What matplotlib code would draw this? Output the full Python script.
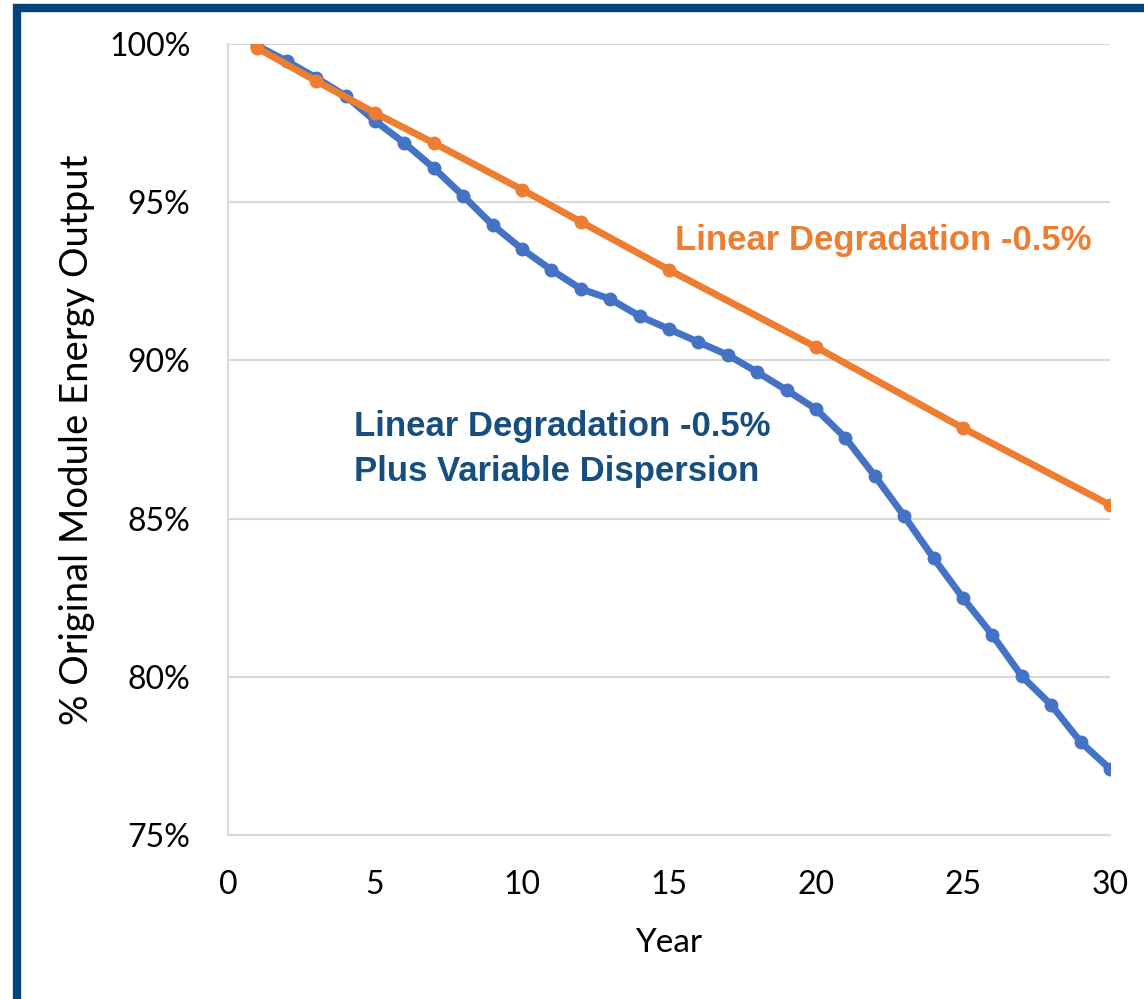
import matplotlib.pyplot as plt
from matplotlib.patches import Rectangle
from matplotlib.ticker import FuncFormatter

# orange series: straight -0.5%/yr degradation (sampled years)
lin_years = [1, 3, 5, 7, 10, 12, 15, 20, 25, 30]
lin_output = [99.87, 98.83, 97.82, 96.87, 95.40, 94.38, 92.86, 90.42, 87.86, 85.43]

# blue series: linear degradation plus variable dispersion
disp_years = list(range(1, 31))
disp_output = [99.94, 99.46, 98.93, 98.36, 97.57, 96.87, 96.08, 95.20, 94.28, 93.52,
               92.86, 92.26, 91.94, 91.40, 90.99, 90.58, 90.17, 89.63, 89.06, 88.46,
               87.55, 86.35, 85.08, 83.75, 82.49, 81.32, 80.02, 79.11, 77.94, 77.09]

y_ticks = [75, 80, 85, 90, 95, 100]
x_ticks = [0, 5, 10, 15, 20, 25, 30]

blue = '#4472C4'
orange = '#ED7D31'
navy = '#024479'

plt.rcParams['font.family'] = ['Lato', 'DejaVu Sans']

fig = plt.figure(figsize=(11.44, 9.99), dpi=100)

# dark blue frame (left and top edges only are visible)
W, H = 1144, 999
fig.patches.append(Rectangle((17 / W, -0.1), 1.2, (H - 8) / H + 0.1,
                             transform=fig.transFigure, fill=False,
                             edgecolor=navy, linewidth=6, zorder=0))

ax = fig.add_axes([228 / W, 1 - 835 / H, (1110 - 228) / W, (835 - 44) / H])

ax.plot(disp_years, disp_output, color=blue, lw=5, marker='o', ms=9,
        solid_joinstyle='round', zorder=3)
ax.plot(lin_years, lin_output, color=orange, lw=5, marker='o', ms=9,
        solid_joinstyle='round', zorder=4)

ax.set_xlim(0, 30)
ax.set_ylim(75, 100)
ax.set_xticks(x_ticks)
ax.set_yticks(y_ticks)
ax.yaxis.set_major_formatter(FuncFormatter(lambda v, p: f"{v:.0f}%"))
ax.grid(axis='y', color='#d9d9d9', lw=1.5)
ax.set_axisbelow(True)
ax.tick_params(length=0, labelsize=23)
ax.tick_params(axis='y', pad=27)
ax.tick_params(axis='x', pad=25)
for s in ['top', 'right']:
    ax.spines[s].set_visible(False)
for s in ['left', 'bottom']:
    ax.spines[s].set_color('#d9d9d9')
    ax.spines[s].set_linewidth(1.5)

ax.set_xlabel('Year', fontsize=24, labelpad=20)
ax.set_ylabel('% Original Module Energy Output', fontsize=27.5, labelpad=10)

ax.text(15.2, 93.8, 'Linear Degradation -0.5%', color=orange, fontsize=25,
        fontweight='bold', family=['Liberation Sans Narrow', 'Liberation Sans'],
        ha='left', va='center')
ax.text(4.3, 87.2, 'Linear Degradation -0.5%\nPlus Variable Dispersion', color='#174E80',
        fontsize=25, fontweight='bold', family=['Liberation Sans Narrow', 'Liberation Sans'],
        ha='left', va='center', linespacing=1.45)

fig.savefig('out.png', dpi=100)
